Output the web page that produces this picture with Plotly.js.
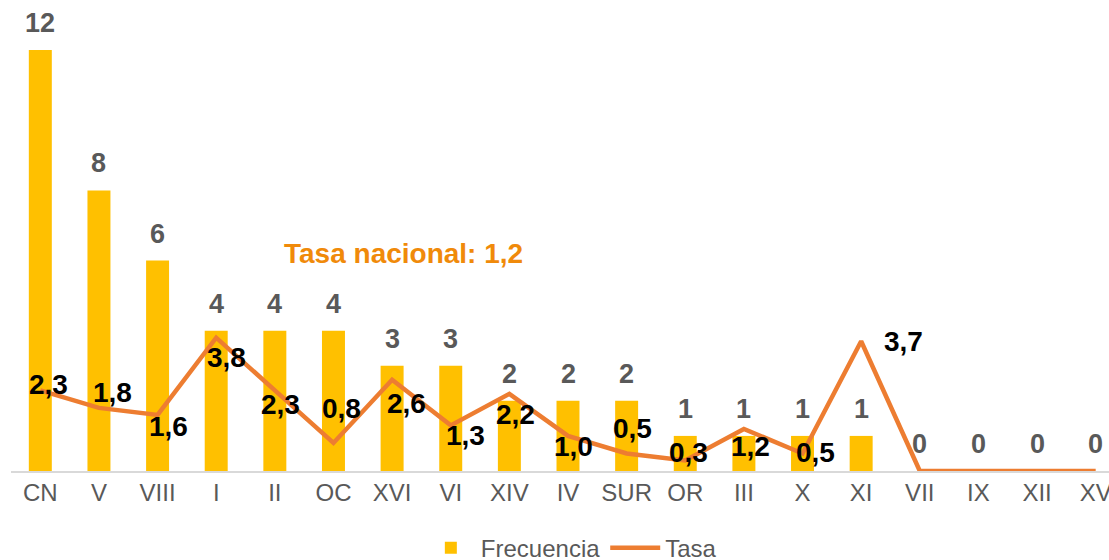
<!DOCTYPE html>
<html>
<head>
<meta charset="utf-8">
<script src="https://cdn.plot.ly/plotly-3.0.1.min.js"></script>
<style>
  html, body { margin: 0; padding: 0; overflow: hidden; background: #fff; width: 1109px; height: 560px; }
  #chart { width: 1130px; height: 560px; }
</style>
</head>
<body>
<div id="chart"></div>
<script>
const categorias = ['CN','V','VIII','I','II','OC','XVI','VI','XIV','IV','SUR','OR','III','X','XI','VII','IX','XII','XV'];
const frecuencia = [12,8,6,4,4,4,3,3,2,2,2,1,1,1,1,0,0,0,0];
const tasa = [2.3,1.8,1.6,3.8,2.3,0.8,2.6,1.3,2.2,1.0,0.5,0.3,1.2,0.5,3.7,0,0,0,0];
const tasaNacional = 1.2;

// label nudges (screen px) for the Tasa labels, as placed in the original
const tasaLabelDx = [8,14,11,10,6,8,14,15,6,5,6,3,7,13,42,0,0,0,0];
const tasaLabelDy = [-6,-15,12,20,14,-34,24,10,21,11,-25,-8,18,-1,0,0,0,0,0];

const fmt = v => v.toFixed(1).replace('.', ',');
const FONT = '"Liberation Sans", Arial, Helvetica, sans-serif';

const traces = [
  {
    type: 'bar', name: 'Frecuencia', x: categorias, y: frecuencia,
    marker: { color: '#FFC000' }, hoverinfo: 'x+y'
  },
  {
    type: 'scatter', mode: 'lines', name: 'Tasa', x: categorias, y: tasa,
    line: { color: '#ED7D31', width: 4.5 }, cliponaxis: false
  }
];

const annotations = [];
categorias.forEach((c, i) => {
  annotations.push({
    x: c, y: frecuencia[i], xref: 'x', yref: 'y',
    text: String(frecuencia[i]), showarrow: false,
    yanchor: 'bottom', yshift: 10,
    font: { family: FONT, size: 27, color: '#595959', weight: 'bold' }
  });
  if (tasa[i] !== 0) {
    annotations.push({
      x: c, y: tasa[i], xref: 'x', yref: 'y',
      text: fmt(tasa[i]), showarrow: false,
      yanchor: 'middle', xanchor: 'center',
      xshift: tasaLabelDx[i], yshift: -tasaLabelDy[i],
      font: { family: FONT, size: 28, color: '#000000', weight: 'bold' }
    });
  }
});
annotations.push({
  xref: 'paper', yref: 'paper', x: 0.3523, y: 0.4844,
  xanchor: 'center', yanchor: 'middle', showarrow: false,
  text: 'Tasa nacional: ' + fmt(tasaNacional),
  font: { family: FONT, size: 28, color: '#F08A0A', weight: 'bold' }
});

const layout = {
  width: 1130, height: 560,
  margin: { l: 11, r: 5, t: 22, b: 89, autoexpand: false },
  paper_bgcolor: '#ffffff', plot_bgcolor: '#ffffff',
  bargap: 0.608,
  showlegend: true,
  legend: {
    orientation: 'h', x: 0.503, xanchor: 'center', y: -0.172, yanchor: 'middle',
    font: { family: FONT, size: 24, color: '#595959' },
    itemwidth: 50
  },
  xaxis: {
    type: 'category', range: [-0.5, 18.5], automargin: false,
    showline: true, linecolor: '#D9D9D9', linewidth: 1.5,
    showgrid: false, zeroline: false, ticks: '',
    tickfont: { family: FONT, size: 24, color: '#595959' },
    fixedrange: true
  },
  yaxis: {
    range: [0, 12.8], visible: false, showgrid: false, zeroline: false, fixedrange: true
  },
  annotations: annotations,
  font: { family: FONT }
};

Plotly.newPlot('chart', traces, layout, { displayModeBar: false, staticPlot: true });
</script>
</body>
</html>
